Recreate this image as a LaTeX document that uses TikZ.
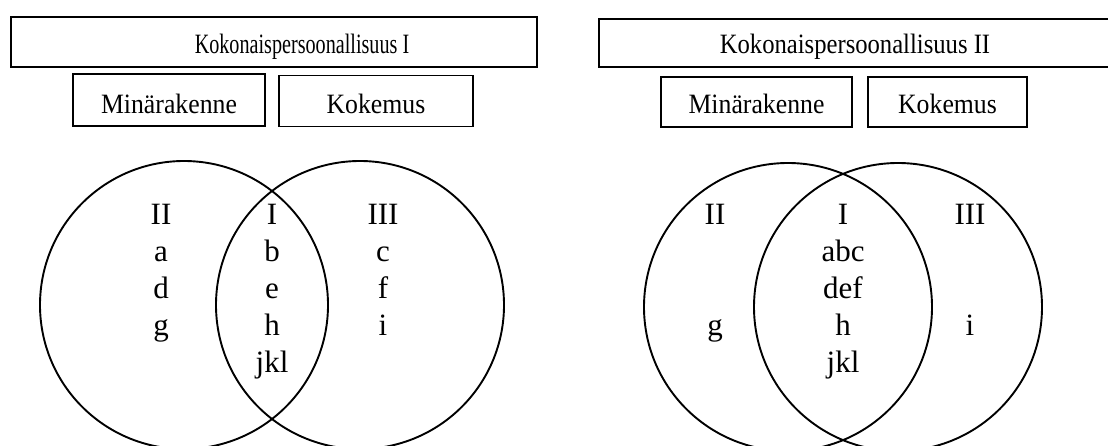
\documentclass[tikz,border=0pt]{standalone}
\usepackage{fontspec}
\setmainfont{Liberation Serif}
\usepackage{graphicx}
\begin{document}
\begin{tikzpicture}[x=1pt,y=-1pt,
  box/.style={draw, line width=1.7pt, inner sep=0pt, rectangle},
  ring/.style={draw, line width=1.9pt, circle, inner sep=0pt, minimum size=288pt},
  lbl/.style={font=\fontsize{31}{31}\selectfont, anchor=base, inner sep=0pt},
  boxtxt/.style={font=\fontsize{28}{28}\selectfont, anchor=base, inner sep=0pt}]
\clip (0,0) rectangle (1108,445);
\fill[white] (0,0) rectangle (1108,445);
% ---------- left diagram ----------
\node[box, minimum width=526pt, minimum height=50pt] (T1) at (274,42) {};
\node[boxtxt] (T1t) at (302,53) {\scalebox{0.72}[1]{Kokonaispersoonallisuus I}};
\node[box, minimum width=192pt, minimum height=52pt] (M1) at (169,100) {};
\node[boxtxt] (M1t) at (169,113) {\scalebox{0.92}[1]{Minärakenne}};
\node[box, minimum width=194pt, minimum height=51pt] (K1) at (376,101) {};
\node[boxtxt] (K1t) at (376,113) {\scalebox{0.92}[1]{Kokemus}};
\node[ring] (A1) at (184,305) {};
\node[ring] (B1) at (360,305) {};
\node[lbl] (a1) at (161,224) {II};
\node[lbl] (a2) at (161,261) {a};
\node[lbl] (a3) at (161,298) {d};
\node[lbl] (a4) at (161,335) {g};
\node[lbl] (b1) at (272,224) {I};
\node[lbl] (b2) at (272,261) {b};
\node[lbl] (b3) at (272,298) {e};
\node[lbl] (b4) at (272,335) {h};
\node[lbl] (b5) at (272,372) {jkl};
\node[lbl] (c1) at (383,224) {III};
\node[lbl] (c2) at (383,261) {c};
\node[lbl] (c3) at (383,298) {f};
\node[lbl] (c4) at (383,335) {i};
% ---------- right diagram ----------
\node[box, minimum width=530pt, minimum height=48pt, anchor=west] (T2) at (598,43) {};
\node[boxtxt] (T2t) at (855,53) {\scalebox{0.88}[1]{Kokonaispersoonallisuus II}};
\node[box, minimum width=191pt, minimum height=50pt] (M2) at (756.5,102) {};
\node[boxtxt] (M2t) at (756.5,113) {\scalebox{0.92}[1]{Minärakenne}};
\node[box, minimum width=159pt, minimum height=50pt] (K2) at (947.5,102) {};
\node[boxtxt] (K2t) at (947.5,113) {\scalebox{0.92}[1]{Kokemus}};
\node[ring] (A2) at (788,307) {};
\node[ring] (B2) at (898,307) {};
\node[lbl] (d1) at (715,224) {II};
\node[lbl] (d4) at (715,335) {g};
\node[lbl] (e1) at (843,224) {I};
\node[lbl] (e2) at (843,261) {abc};
\node[lbl] (e3) at (843,298) {def};
\node[lbl] (e4) at (843,335) {h};
\node[lbl] (e5) at (843,372) {jkl};
\node[lbl] (f1) at (970,224) {III};
\node[lbl] (f4) at (970,335) {i};
\end{tikzpicture}
\end{document}
